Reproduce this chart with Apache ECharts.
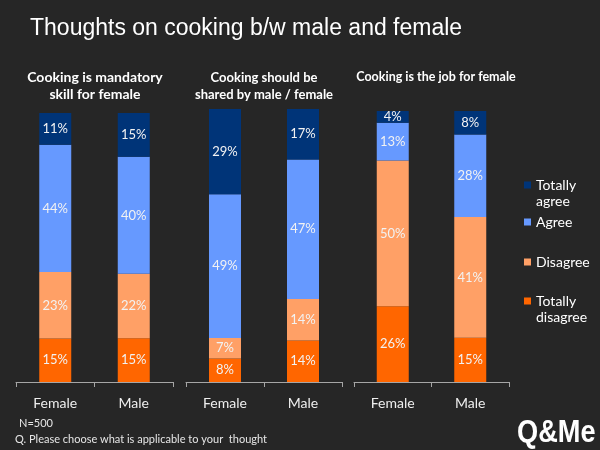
<!DOCTYPE html>
<html>
<head>
<meta charset="utf-8">
<script src="https://cdn.jsdelivr.net/npm/echarts@6/dist/echarts.min.js"></script>
<style>html,body{margin:0;padding:0;background:#262626;}#main{width:600px;height:450px;}</style>
</head>
<body>
<div id="main"></div>
<script>
// ---- data ----
var categories = ['Female', 'Male'];
var seriesNames = ['Totally disagree', 'Disagree', 'Agree', 'Totally agree'];
var panelTitles = ['Cooking is mandatory\nskill for female', 'Cooking should be\nshared by male / female', 'Cooking is the job for female'];
// values per panel: [Female, Male]
var mandatoryTotallyDisagree = [15, 15];
var mandatoryDisagree = [23, 22];
var mandatoryAgree = [44, 40];
var mandatoryTotallyAgree = [11, 15];
var sharedTotallyDisagree = [8, 14];
var sharedDisagree = [7, 14];
var sharedAgree = [49, 47];
var sharedTotallyAgree = [29, 17];
var jobTotallyDisagree = [26, 15];
var jobDisagree = [50, 41];
var jobAgree = [13, 28];
var jobTotallyAgree = [4, 8];
var footNotes = ['N=500', 'Q. Please choose what is applicable to your  thought'];

var panels = [
  [mandatoryTotallyDisagree, mandatoryDisagree, mandatoryAgree, mandatoryTotallyAgree],
  [sharedTotallyDisagree, sharedDisagree, sharedAgree, sharedTotallyAgree],
  [jobTotallyDisagree, jobDisagree, jobAgree, jobTotallyAgree]
];
var colors = ['#ff6600', '#ffa066', '#6699ff', '#003478'];

var gridPos = [
  {left: 16, width: 157, top: 113, bottom: 68},
  {left: 186, width: 156, top: 109, bottom: 68},
  {left: 354, width: 155, top: 111, bottom: 68}
];
var titleCenters = [95, 264, 436];
var titleSizes = [14, 13, 12.5];
var titleTops = [69, 69, 68];

var grids = [], xAxes = [], yAxes = [], series = [], titles = [];
titles.push({
  text: 'Thoughts on cooking b/w male and female',
  left: 30, top: 17, padding: 0,
  textStyle: {color: '#ffffff', fontSize: 23, fontWeight: 'normal', fontFamily: 'Liberation Sans'}
});
panels.forEach(function (p, pi) {
  grids.push(gridPos[pi]);
  xAxes.push({
    type: 'category', gridIndex: pi, data: categories,
    axisLine: {lineStyle: {color: '#a6a6a6', width: 1}},
    axisTick: {show: true, length: 5, lineStyle: {color: '#a6a6a6'}},
    axisLabel: {color: '#eeeeee', fontSize: 14, fontFamily: 'Lato', margin: 14}
  });
  yAxes.push({type: 'value', gridIndex: pi, min: 0, max: 100, show: false, splitLine: {show: false}});
  var totals = categories.map(function (c, ci) {
    return p.reduce(function (s, arr) { return s + arr[ci]; }, 0);
  });
  p.forEach(function (arr, si) {
    series.push({
      name: seriesNames[si], type: 'bar', stack: 'p' + pi,
      xAxisIndex: pi, yAxisIndex: pi, barWidth: 32,
      itemStyle: {color: colors[si]},
      data: arr.map(function (v, ci) { return {value: v / totals[ci] * 100, raw: v}; }),
      label: {
        show: true, position: 'inside', color: '#f2f2f2', fontSize: 13, fontFamily: 'Lato',
        formatter: function (params) { return params.data.raw + '%'; }
      }
    });
  });
  titles.push({
    text: panelTitles[pi], left: titleCenters[pi], top: titleTops[pi], textAlign: 'center', padding: 0,
    textStyle: {color: '#ffffff', fontSize: titleSizes[pi], fontWeight: 'bold', fontFamily: 'Lato', lineHeight: 17}
  });
});

var squareIcon = 'rect';
var tallIcon = 'path://M0,0L7,0L7,7L0,7Z M0,23L7,23L7,23Z';
var legendDefs = [
  {name: 'Totally agree', label: 'Totally\nagree', top: 177, two: true},
  {name: 'Agree', label: 'Agree', top: 214, two: false},
  {name: 'Disagree', label: 'Disagree', top: 254, two: false},
  {name: 'Totally disagree', label: 'Totally\ndisagree', top: 293, two: true}
];
var legends = legendDefs.map(function (d) {
  return {
    data: [{name: d.name, icon: d.two ? tallIcon : squareIcon}], left: 524, top: d.top, orient: 'vertical', padding: 0,
    itemWidth: 7, itemHeight: d.two ? 23 : 7, selectedMode: false,
    formatter: function () { return d.label; },
    textStyle: {color: '#ffffff', fontSize: 14, fontFamily: 'Lato', lineHeight: 16}
  };
});

var chart = echarts.init(document.getElementById('main'), null, {renderer: 'canvas'});
chart.setOption({
  backgroundColor: '#262626',
  animation: false,
  title: titles,
  grid: grids,
  xAxis: xAxes,
  yAxis: yAxes,
  legend: legends,
  series: series,
  graphic: [
    {type: 'text', left: 19, top: 418, style: {text: footNotes[0], fill: '#e6e6e6', font: '11px Lato'}},
    {type: 'text', left: 15, top: 434, style: {text: footNotes[1], fill: '#e6e6e6', font: '11px Lato'}},
    {type: 'text', x: 517, y: 433, scaleX: 0.85, style: {text: 'Q&Me', fill: '#ffffff', font: 'bold 32px "Liberation Sans"', textVerticalAlign: 'middle'}}
  ]
});
</script>
</body>
</html>
